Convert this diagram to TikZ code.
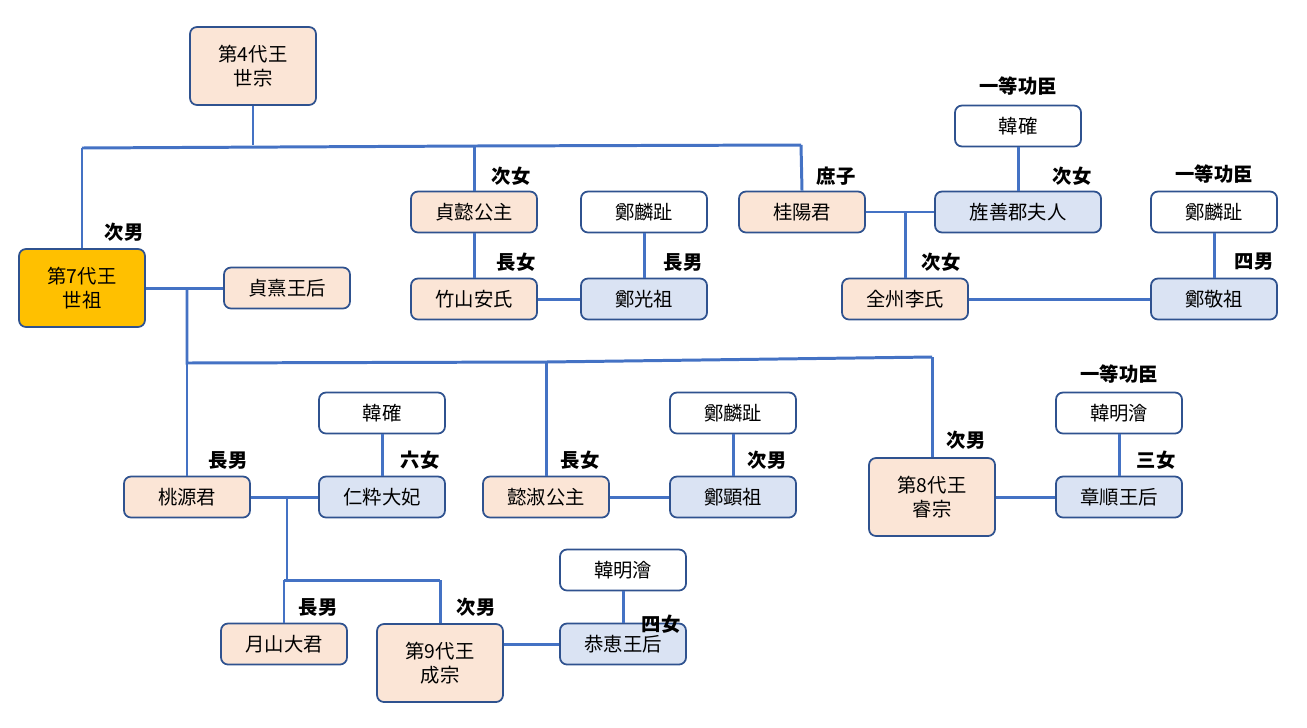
\documentclass[tikz,border=0pt]{standalone}
\usepackage{fontspec}
\newfontfamily\cjk{Noto Sans CJK JP}
\begin{document}
\begin{tikzpicture}[x=0.02cm,y=-0.02cm,
 every node/.style={font=\cjk\fontsize{11}{13.5}\selectfont},
 bx/.style={draw=bordc,line width=1pt,rounded corners=4pt,minimum width=126*0.02cm,minimum height=41*0.02cm,align=center,inner sep=1pt},
 pe/.style={bx,fill=peach},
 bl/.style={bx,fill=lblue},
 wh/.style={bx,fill=white},
 tall/.style={minimum height=78*0.02cm},
 lb/.style={font=\cjk\bfseries\fontsize{11}{13}\selectfont},
 ln/.style={draw=linec,line width=1.7pt}]
\definecolor{peach}{HTML}{FBE5D6}
\definecolor{lblue}{HTML}{DAE3F3}
\definecolor{bordc}{HTML}{2F528F}
\definecolor{linec}{HTML}{4472C4}
\definecolor{gold}{HTML}{FFC000}
\useasboundingbox (0,0) rectangle (1307,727);
\node[pe,tall] (sejong) at (253,66) {第4代王\\世宗};
\node[bx,tall,fill=gold] (sejo) at (82,288) {第7代王\\世祖};
\node[pe] (jh) at (287,288) {貞熹王后};
\node[pe] (jui) at (474,212) {貞懿公主};
\node[pe] (jsan) at (474,299) {竹山安氏};
\node[wh] (jr1) at (644,212) {鄭麟趾};
\node[bl] (jkj) at (644,299) {鄭光祖};
\node[pe] (kyy) at (802,212) {桂陽君};
\node[wh] (hk1) at (1018,126) {韓確};
\node[bl,minimum width=166*0.02cm] (jsg) at (1018,212) {旌善郡夫人};
\node[pe] (jjl) at (905,299) {全州李氏};
\node[wh] (jr2) at (1214,212) {鄭麟趾};
\node[bl] (jgj) at (1214,299) {鄭敬祖};
\node[pe] (tgk) at (187,497) {桃源君};
\node[wh] (hk2) at (382,413) {韓確};
\node[bl] (jsd) at (382,497) {仁粋大妃};
\node[pe] (uis) at (546,497) {懿淑公主};
\node[wh] (jr3) at (733,413) {鄭麟趾};
\node[bl] (jhj) at (733,497) {鄭顕祖};
\node[pe,tall] (yejong) at (932,497) {第8代王\\睿宗};
\node[wh] (hm1) at (1119,413) {韓明澮};
\node[bl] (jsw) at (1119,497) {章順王后};
\node[pe] (wol) at (284,644) {月山大君};
\node[pe,tall] (sj) at (440,663) {第9代王\\成宗};
\node[wh] (hm2) at (623,570) {韓明澮};
\node[bl] (gh) at (623,644) {恭恵王后};
\coordinate (a0) at (253,145);
\coordinate (a1) at (82,148); \coordinate (a2) at (474,146); \coordinate (a3) at (801,145);
\coordinate (b0) at (187,288); \coordinate (b1) at (187,363); \coordinate (b2) at (546,362); \coordinate (b3) at (932,357);
\coordinate (c0) at (905,212);
\coordinate (d0) at (287,497); \coordinate (d1) at (287,580); \coordinate (d2) at (440,580); \coordinate (d3) at (284,580);
\draw[ln] (sejong.south) -- (a0);
\draw[ln] (a1) -- (a2) -- (a3);
\draw[ln] (a1) -- (sejo.north); \draw[ln] (a2) -- (jui.north); \draw[ln] (a3) -- (kyy.north);
\draw[ln] (sejo.east) -- (jh.west);
\draw[ln] (b0) -- (b1) -- (b2) -- (b3);
\draw[ln] (b1) -- (tgk.north); \draw[ln] (b2) -- (uis.north); \draw[ln] (b3) -- (yejong.north);
\draw[ln] (jui) -- (jsan); \draw[ln] (jsan) -- (jkj); \draw[ln] (jr1) -- (jkj);
\draw[ln] (kyy) -- (jsg); \draw[ln] (c0) -- (jjl.north); \draw[ln] (hk1) -- (jsg);
\draw[ln] (jjl) -- (jgj); \draw[ln] (jr2) -- (jgj);
\draw[ln] (tgk) -- (jsd); \draw[ln] (hk2) -- (jsd);
\draw[ln] (d0) -- (d1); \draw[ln] (d3) -- (d2);
\draw[ln] (d3) -- (wol.north); \draw[ln] (d2) -- (sj.north);
\draw[ln] (uis) -- (jhj); \draw[ln] (jr3) -- (jhj);
\draw[ln] (yejong) -- (jsw); \draw[ln] (hm1) -- (jsw);
\draw[ln] (sj.east |- gh) -- (gh); \draw[ln] (hm2) -- (gh);
\node[lb] (l1) at (124,232) {次男};
\node[lb] (l2) at (511,176) {次女};
\node[lb] (l3) at (516,262) {長女};
\node[lb] (l4) at (683,262) {長男};
\node[lb] (l5) at (836,176) {庶子};
\node[lb] (l6) at (1018,86) {一等功臣};
\node[lb] (l7) at (1072,176) {次女};
\node[lb] (l8) at (1214,174) {一等功臣};
\node[lb] (l9) at (941,262) {次女};
\node[lb] (l10) at (1254,262) {四男};
\node[lb] (l11) at (228,460) {長男};
\node[lb] (l12) at (420,460) {六女};
\node[lb] (l13) at (580,460) {長女};
\node[lb] (l14) at (767,460) {次男};
\node[lb] (l15) at (966,440) {次男};
\node[lb] (l16) at (1119,374) {一等功臣};
\node[lb] (l17) at (1156,460) {三女};
\node[lb] (l18) at (318,607) {長男};
\node[lb] (l19) at (476,607) {次男};
\node[lb] (l20) at (661,624) {四女};
\end{tikzpicture}
\end{document}
